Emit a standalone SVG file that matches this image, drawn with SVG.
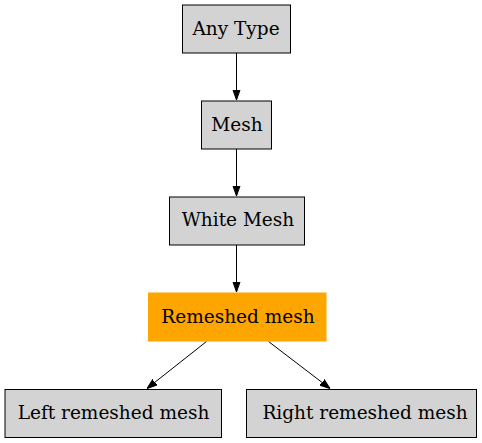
<svg xmlns="http://www.w3.org/2000/svg" width="482" height="443" viewBox="0 0 482 443">
<style>
.n{fill:#d3d3d3;stroke:#000;stroke-width:1}
.t{font-family:"DejaVu Serif",serif;font-size:18.5px;text-anchor:middle;fill:#000}
.e{stroke:#000;stroke-width:1;fill:none}
</style>
<defs>
<marker id="a" viewBox="0 0 10 10" refX="10" refY="5" markerWidth="10" markerHeight="10" markerUnits="userSpaceOnUse" orient="auto">
<path d="M0,1.5 L10,5 L0,8.5 Z" fill="#000" stroke="#000" stroke-width="1"/>
</marker>
</defs>
<rect width="482" height="443" fill="#fff"/>
<g id="edges">
<path class="e" d="M236.5,53 L236.5,100" marker-end="url(#a)"/>
<path class="e" d="M236.5,149 L236.5,196" marker-end="url(#a)"/>
<path class="e" d="M236.5,245 L236.5,292" marker-end="url(#a)"/>
<path class="e" d="M206.5,341.5 L147,388.5" marker-end="url(#a)"/>
<path class="e" d="M268.5,341.5 L330,388.5" marker-end="url(#a)"/>
</g>
<g id="any">
<rect class="n" x="182.5" y="5" width="108" height="48"/>
<text class="t" x="236" y="34.5">Any Type</text>
</g>
<g id="mesh">
<rect class="n" x="201.5" y="101" width="70" height="48"/>
<text class="t" x="237" y="130.5">Mesh</text>
</g>
<g id="white">
<rect class="n" x="169.5" y="197" width="135" height="48"/>
<text class="t" x="238" y="226">White Mesh</text>
</g>
<g id="remeshed">
<rect x="148" y="292.5" width="178.5" height="49" fill="#ffa500"/>
<text class="t" x="238" y="323">Remeshed mesh</text>
</g>
<g id="left">
<rect class="n" x="5" y="389.5" width="216.5" height="48"/>
<text class="t" x="113.5" y="419">Left remeshed mesh</text>
</g>
<g id="right">
<rect class="n" x="246.5" y="389.5" width="230" height="48"/>
<text class="t" x="365" y="419">Right remeshed mesh</text>
</g>
</svg>
